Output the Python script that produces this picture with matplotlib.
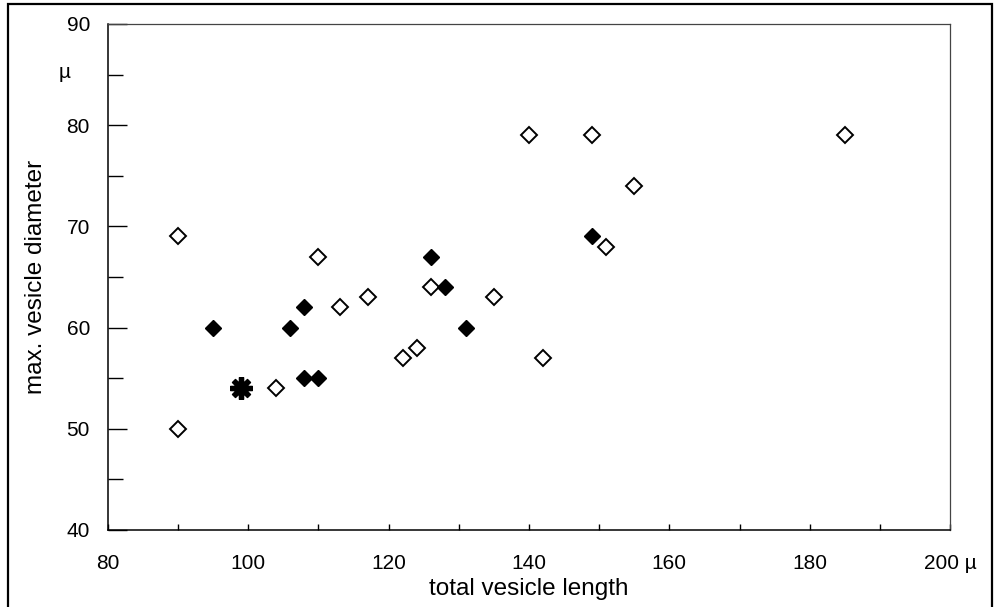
import matplotlib
matplotlib.use('Agg')
import matplotlib.pyplot as plt
from matplotlib.patches import Rectangle

plt.rcParams['font.family'] = ['Liberation Sans', 'DejaVu Sans']

# open diamonds
open_x = [90, 90, 104, 110, 113, 117, 122, 124, 126, 135, 140, 142, 149, 151, 155, 185]
open_y = [69, 50, 54, 67, 62, 63, 57, 58, 64, 63, 79, 57, 79, 68, 74, 79]
# filled diamonds
fill_x = [95, 106, 108, 108, 110, 126, 128, 131, 149]
fill_y = [60, 60, 62, 55, 55, 67, 64, 60, 69]
# asterisk
star_x = [99]
star_y = [54]

x_ticks = [80, 100, 120, 140, 160, 180, 200]
x_labels = ['80', '100', '120', '140', '160', '180', '200 µ']
y_ticks = [40, 50, 60, 70, 80, 90]

fig = plt.figure(figsize=(9.97, 6.07), dpi=100)
ax = fig.add_axes([0.1083, 0.1269, 0.8446, 0.8336])

ax.plot(open_x, open_y, 'D', ms=8.0, mfc='white', mec='black', mew=1.4, ls='none')
ax.plot(fill_x, fill_y, 'D', ms=8.2, mfc='black', mec='black', mew=1.0, ls='none')
ax.plot(star_x, star_y, marker=(8, 2, 0), ms=16, mec='black', mew=3.8, ls='none')

ax.set_xlim(80, 200)
ax.set_ylim(40, 90)
ax.set_xticks(x_ticks)
ax.set_xticklabels(x_labels)
ax.set_xticks(range(90, 200, 20), minor=True)
ax.set_yticks(y_ticks)
ax.set_yticks(range(45, 90, 10), minor=True)

ax.tick_params(axis='y', which='major', direction='in', length=14, width=1, pad=13, labelsize=15)
ax.tick_params(axis='y', which='minor', direction='in', length=11, width=1)
ax.tick_params(axis='x', which='major', direction='in', length=4, width=1, pad=17, labelsize=15)
ax.tick_params(axis='x', which='minor', direction='in', length=4, width=1)

for side in ['left', 'bottom']:
    ax.spines[side].set_linewidth(1.1)
    ax.spines[side].set_color('black')
for side in ['top', 'right']:
    ax.spines[side].set_linewidth(0.9)
    ax.spines[side].set_color('#444444')

ax.set_xlabel('total vesicle length', fontsize=17.5, labelpad=4)
ax.set_ylabel('max. vesicle diameter', fontsize=17.5, labelpad=14)
fig.text(0.065, 0.88, 'µ', fontsize=15, ha='center', va='center')

# outer frame
fig.patches.append(Rectangle((0.008, -0.05), 0.987, 1.044, transform=fig.transFigure,
                             fill=False, edgecolor='black', linewidth=1.6))

fig.savefig('out.png', dpi=100)
